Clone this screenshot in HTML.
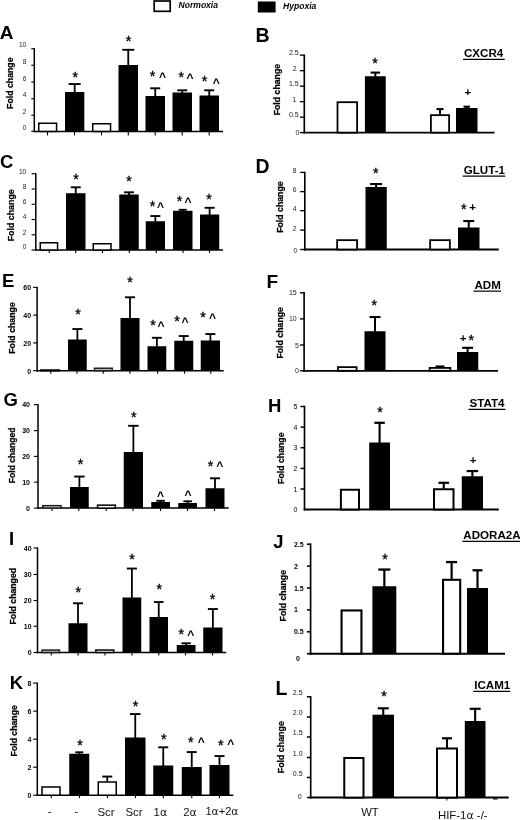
<!DOCTYPE html>
<html><head><meta charset="utf-8"><title>Figure</title>
<style>html,body{margin:0;padding:0;background:#fff}svg{display:block;font-family:'Liberation Sans', sans-serif}</style></head><body>
<svg width="520" height="820" viewBox="0 0 520 820">
<rect width="520" height="820" fill="#fff"/>
<rect x="154.2" y="1.0" width="16" height="10.3" fill="#fff" stroke="#000" stroke-width="1.7"/>
<text x="178.60" y="7.80" text-anchor="start" fill="#000" style="font-size:8.5px;font-weight:bold;font-style:italic;" textLength="39.4" lengthAdjust="spacingAndGlyphs">Normoxia</text>
<rect x="257.8" y="1.5" width="17.8" height="11" fill="#000"/>
<text x="283.00" y="9.10" text-anchor="start" fill="#000" style="font-size:8.3px;font-weight:bold;font-style:italic;" textLength="33.3" lengthAdjust="spacingAndGlyphs">Hypoxia</text>
<line x1="34.30" y1="48.14" x2="34.30" y2="132.15" stroke="#000" stroke-width="1.5"/>
<line x1="33.55" y1="131.40" x2="223.00" y2="131.40" stroke="#000" stroke-width="1.5"/>
<line x1="31.30" y1="48.75" x2="34.30" y2="48.75" stroke="#000" stroke-width="1.125"/>
<text x="26.30" y="47.25" text-anchor="end" fill="#222" style="font-size:6.6px;" >10</text>
<line x1="31.30" y1="65.25" x2="34.30" y2="65.25" stroke="#000" stroke-width="1.125"/>
<text x="26.30" y="63.75" text-anchor="end" fill="#222" style="font-size:6.6px;" >8</text>
<line x1="31.30" y1="82.00" x2="34.30" y2="82.00" stroke="#000" stroke-width="1.125"/>
<text x="26.30" y="80.50" text-anchor="end" fill="#222" style="font-size:6.6px;" >6</text>
<line x1="31.30" y1="98.75" x2="34.30" y2="98.75" stroke="#000" stroke-width="1.125"/>
<text x="26.30" y="97.25" text-anchor="end" fill="#222" style="font-size:6.6px;" >4</text>
<line x1="31.30" y1="115.25" x2="34.30" y2="115.25" stroke="#000" stroke-width="1.125"/>
<text x="26.30" y="113.75" text-anchor="end" fill="#222" style="font-size:6.6px;" >2</text>
<line x1="31.30" y1="131.25" x2="34.30" y2="131.25" stroke="#000" stroke-width="1.125"/>
<text x="26.30" y="129.75" text-anchor="end" fill="#222" style="font-size:6.6px;" >0</text>
<line x1="47.50" y1="131.40" x2="47.50" y2="135.40" stroke="#000" stroke-width="1.1"/>
<line x1="74.50" y1="131.40" x2="74.50" y2="135.40" stroke="#000" stroke-width="1.1"/>
<line x1="101.50" y1="131.40" x2="101.50" y2="135.40" stroke="#000" stroke-width="1.1"/>
<line x1="128.30" y1="131.40" x2="128.30" y2="135.40" stroke="#000" stroke-width="1.1"/>
<line x1="155.20" y1="131.40" x2="155.20" y2="135.40" stroke="#000" stroke-width="1.1"/>
<line x1="182.20" y1="131.40" x2="182.20" y2="135.40" stroke="#000" stroke-width="1.1"/>
<line x1="209.20" y1="131.40" x2="209.20" y2="135.40" stroke="#000" stroke-width="1.1"/>
<text transform="translate(12.70,83.20) rotate(-90)" text-anchor="middle" stroke="#000" stroke-width="0.25" style="font-size:8.75px;font-weight:bold">Fold change</text>
<rect x="38.75" y="123.25" width="17.80" height="8.15" fill="#fff" stroke="#000" stroke-width="1.5"/>
<rect x="65.00" y="92.00" width="19.30" height="39.40" fill="#000"/>
<line x1="74.65" y1="92.50" x2="74.65" y2="84.05" stroke="#000" stroke-width="1.8"/>
<line x1="68.65" y1="84.05" x2="80.65" y2="84.05" stroke="#000" stroke-width="1.9000000000000001"/>
<rect x="92.75" y="123.75" width="17.80" height="7.65" fill="#fff" stroke="#000" stroke-width="1.5"/>
<rect x="118.50" y="65.00" width="19.50" height="66.40" fill="#000"/>
<line x1="128.25" y1="65.50" x2="128.25" y2="49.80" stroke="#000" stroke-width="1.8"/>
<line x1="122.25" y1="49.80" x2="134.25" y2="49.80" stroke="#000" stroke-width="1.9000000000000001"/>
<rect x="145.50" y="96.00" width="19.50" height="35.40" fill="#000"/>
<line x1="155.25" y1="96.50" x2="155.25" y2="88.30" stroke="#000" stroke-width="1.8"/>
<line x1="150.25" y1="88.30" x2="160.25" y2="88.30" stroke="#000" stroke-width="1.9000000000000001"/>
<rect x="172.50" y="92.50" width="19.50" height="38.90" fill="#000"/>
<line x1="182.25" y1="93.00" x2="182.25" y2="90.30" stroke="#000" stroke-width="1.8"/>
<line x1="177.25" y1="90.30" x2="187.25" y2="90.30" stroke="#000" stroke-width="1.9000000000000001"/>
<rect x="199.50" y="95.50" width="19.50" height="35.90" fill="#000"/>
<line x1="209.25" y1="96.00" x2="209.25" y2="90.30" stroke="#000" stroke-width="1.8"/>
<line x1="204.25" y1="90.30" x2="214.25" y2="90.30" stroke="#000" stroke-width="1.9000000000000001"/>
<text x="75.25" y="81.65" text-anchor="middle" fill="#000" style="font-size:14.3px;" stroke="#000" stroke-width="0.35">*</text>
<text x="128.50" y="46.15" text-anchor="middle" fill="#000" style="font-size:14.3px;" stroke="#000" stroke-width="0.35">*</text>
<text x="152.50" y="80.90" text-anchor="middle" fill="#000" style="font-size:14.3px;" stroke="#000" stroke-width="0.35">*</text>
<text x="162.50" y="81.20" text-anchor="middle" fill="#000" style="font-size:12px;font-weight:bold;" >^</text>
<text x="181.25" y="82.15" text-anchor="middle" fill="#000" style="font-size:14.3px;" stroke="#000" stroke-width="0.35">*</text>
<text x="190.00" y="81.95" text-anchor="middle" fill="#000" style="font-size:12px;font-weight:bold;" >^</text>
<text x="204.50" y="85.90" text-anchor="middle" fill="#000" style="font-size:14.3px;" stroke="#000" stroke-width="0.35">*</text>
<text x="216.25" y="86.95" text-anchor="middle" fill="#000" style="font-size:12px;font-weight:bold;" >^</text>
<text x="-0.30" y="38.80" text-anchor="start" fill="#000" style="font-size:19px;font-weight:bold;" >A</text>
<line x1="304.30" y1="54.48" x2="304.30" y2="133.50" stroke="#000" stroke-width="1.65"/>
<line x1="303.48" y1="132.60" x2="494.50" y2="132.60" stroke="#000" stroke-width="1.8"/>
<line x1="299.90" y1="55.15" x2="304.30" y2="55.15" stroke="#000" stroke-width="1.35"/>
<text x="298.70" y="55.05" text-anchor="end" fill="#222" style="font-size:7px;" >2.5</text>
<line x1="299.90" y1="70.65" x2="304.30" y2="70.65" stroke="#000" stroke-width="1.35"/>
<text x="296.60" y="70.55" text-anchor="end" fill="#222" style="font-size:7px;" >2</text>
<line x1="299.90" y1="86.15" x2="304.30" y2="86.15" stroke="#000" stroke-width="1.35"/>
<text x="298.70" y="86.05" text-anchor="end" fill="#222" style="font-size:7px;" >1.5</text>
<line x1="299.90" y1="101.65" x2="304.30" y2="101.65" stroke="#000" stroke-width="1.35"/>
<text x="296.40" y="101.55" text-anchor="end" fill="#222" style="font-size:7px;" >1</text>
<line x1="299.90" y1="117.15" x2="304.30" y2="117.15" stroke="#000" stroke-width="1.35"/>
<text x="298.70" y="117.05" text-anchor="end" fill="#222" style="font-size:7px;" >0.5</text>
<line x1="299.90" y1="132.60" x2="304.30" y2="132.60" stroke="#000" stroke-width="1.35"/>
<text x="299.30" y="135.40" text-anchor="end" fill="#222" style="font-size:7px;" >0</text>
<text transform="translate(280.00,89.60) rotate(-90)" text-anchor="middle" stroke="#000" stroke-width="0.25" style="font-size:8.75px;font-weight:bold">Fold change</text>
<rect x="337.50" y="102.20" width="19.60" height="30.40" fill="#fff" stroke="#000" stroke-width="1.8"/>
<rect x="364.90" y="76.25" width="20.85" height="56.35" fill="#000"/>
<line x1="375.32" y1="76.75" x2="375.32" y2="72.60" stroke="#000" stroke-width="2.0"/>
<line x1="370.57" y1="72.60" x2="380.07" y2="72.60" stroke="#000" stroke-width="2.1"/>
<rect x="430.90" y="115.15" width="18.20" height="17.45" fill="#fff" stroke="#000" stroke-width="1.8"/>
<line x1="440.00" y1="114.75" x2="440.00" y2="109.10" stroke="#000" stroke-width="2.0"/>
<line x1="436.50" y1="109.10" x2="443.50" y2="109.10" stroke="#000" stroke-width="2.1"/>
<rect x="456.00" y="108.00" width="21.50" height="24.60" fill="#000"/>
<line x1="466.75" y1="108.50" x2="466.75" y2="106.70" stroke="#000" stroke-width="2.0"/>
<line x1="463.50" y1="106.70" x2="470.00" y2="106.70" stroke="#000" stroke-width="2.1"/>
<text x="375.00" y="67.65" text-anchor="middle" fill="#000" style="font-size:14.3px;" stroke="#000" stroke-width="0.35">*</text>
<text x="467.75" y="95.84" text-anchor="middle" fill="#000" style="font-size:11.5px;font-weight:bold;" >+</text>
<text x="255.60" y="41.80" text-anchor="start" fill="#000" style="font-size:19.6px;font-weight:bold;" >B</text>
<text x="464.00" y="57.00" text-anchor="start" fill="#000" style="font-size:11.6px;font-weight:bold;" >CXCR4</text>
<line x1="463.00" y1="59.40" x2="504.75" y2="59.40" stroke="#000" stroke-width="1.2"/>
<line x1="35.80" y1="173.19" x2="35.80" y2="250.75" stroke="#000" stroke-width="1.5"/>
<line x1="35.05" y1="250.00" x2="223.00" y2="250.00" stroke="#000" stroke-width="1.5"/>
<line x1="31.60" y1="173.75" x2="35.80" y2="173.75" stroke="#000" stroke-width="1.125"/>
<text x="26.30" y="173.65" text-anchor="end" fill="#222" style="font-size:6.6px;" >10</text>
<line x1="31.60" y1="189.00" x2="35.80" y2="189.00" stroke="#000" stroke-width="1.125"/>
<text x="26.30" y="188.90" text-anchor="end" fill="#222" style="font-size:6.6px;" >8</text>
<line x1="31.60" y1="204.25" x2="35.80" y2="204.25" stroke="#000" stroke-width="1.125"/>
<text x="26.30" y="204.15" text-anchor="end" fill="#222" style="font-size:6.6px;" >6</text>
<line x1="31.60" y1="219.50" x2="35.80" y2="219.50" stroke="#000" stroke-width="1.125"/>
<text x="26.30" y="219.40" text-anchor="end" fill="#222" style="font-size:6.6px;" >4</text>
<line x1="31.60" y1="234.75" x2="35.80" y2="234.75" stroke="#000" stroke-width="1.125"/>
<text x="26.30" y="234.65" text-anchor="end" fill="#222" style="font-size:6.6px;" >2</text>
<line x1="31.60" y1="250.00" x2="35.80" y2="250.00" stroke="#000" stroke-width="1.125"/>
<text x="26.30" y="248.60" text-anchor="end" fill="#222" style="font-size:6.6px;" >0</text>
<line x1="49.25" y1="250.00" x2="49.25" y2="253.00" stroke="#000" stroke-width="1.1"/>
<line x1="75.75" y1="250.00" x2="75.75" y2="253.00" stroke="#000" stroke-width="1.1"/>
<line x1="102.50" y1="250.00" x2="102.50" y2="253.00" stroke="#000" stroke-width="1.1"/>
<line x1="129.30" y1="250.00" x2="129.30" y2="253.00" stroke="#000" stroke-width="1.1"/>
<line x1="156.25" y1="250.00" x2="156.25" y2="253.00" stroke="#000" stroke-width="1.1"/>
<line x1="183.00" y1="250.00" x2="183.00" y2="253.00" stroke="#000" stroke-width="1.1"/>
<line x1="209.50" y1="250.00" x2="209.50" y2="253.00" stroke="#000" stroke-width="1.1"/>
<text transform="translate(13.60,215.30) rotate(-90)" text-anchor="middle" stroke="#000" stroke-width="0.25" style="font-size:8.85px;font-weight:bold">Fold change</text>
<rect x="40.25" y="242.75" width="17.30" height="7.25" fill="#fff" stroke="#000" stroke-width="1.5"/>
<rect x="66.00" y="193.25" width="19.50" height="56.75" fill="#000"/>
<line x1="75.75" y1="193.75" x2="75.75" y2="187.30" stroke="#000" stroke-width="1.8"/>
<line x1="70.75" y1="187.30" x2="80.75" y2="187.30" stroke="#000" stroke-width="1.9000000000000001"/>
<rect x="93.25" y="243.75" width="17.75" height="6.25" fill="#fff" stroke="#000" stroke-width="1.5"/>
<rect x="119.25" y="194.50" width="19.50" height="55.50" fill="#000"/>
<line x1="129.00" y1="195.00" x2="129.00" y2="192.30" stroke="#000" stroke-width="1.8"/>
<line x1="124.00" y1="192.30" x2="134.00" y2="192.30" stroke="#000" stroke-width="1.9000000000000001"/>
<rect x="145.75" y="221.25" width="19.25" height="28.75" fill="#000"/>
<line x1="155.38" y1="221.75" x2="155.38" y2="216.05" stroke="#000" stroke-width="1.8"/>
<line x1="150.38" y1="216.05" x2="160.38" y2="216.05" stroke="#000" stroke-width="1.9000000000000001"/>
<rect x="173.00" y="210.75" width="19.50" height="39.25" fill="#000"/>
<line x1="182.75" y1="211.25" x2="182.75" y2="209.80" stroke="#000" stroke-width="1.8"/>
<line x1="178.75" y1="209.80" x2="186.75" y2="209.80" stroke="#000" stroke-width="1.9000000000000001"/>
<rect x="200.00" y="214.50" width="19.25" height="35.50" fill="#000"/>
<line x1="209.62" y1="215.00" x2="209.62" y2="207.80" stroke="#000" stroke-width="1.8"/>
<line x1="204.62" y1="207.80" x2="214.62" y2="207.80" stroke="#000" stroke-width="1.9000000000000001"/>
<text x="76.00" y="183.65" text-anchor="middle" fill="#000" style="font-size:14.3px;" stroke="#000" stroke-width="0.35">*</text>
<text x="129.00" y="186.15" text-anchor="middle" fill="#000" style="font-size:14.3px;" stroke="#000" stroke-width="0.35">*</text>
<text x="152.50" y="211.15" text-anchor="middle" fill="#000" style="font-size:14.3px;" stroke="#000" stroke-width="0.35">*</text>
<text x="160.50" y="211.45" text-anchor="middle" fill="#000" style="font-size:12px;font-weight:bold;" >^</text>
<text x="179.50" y="206.15" text-anchor="middle" fill="#000" style="font-size:14.3px;" stroke="#000" stroke-width="0.35">*</text>
<text x="188.00" y="206.45" text-anchor="middle" fill="#000" style="font-size:12px;font-weight:bold;" >^</text>
<text x="209.00" y="203.65" text-anchor="middle" fill="#000" style="font-size:14.3px;" stroke="#000" stroke-width="0.35">*</text>
<text x="0.10" y="168.25" text-anchor="start" fill="#000" style="font-size:18.5px;font-weight:bold;" >C</text>
<line x1="304.80" y1="171.72" x2="304.80" y2="250.40" stroke="#000" stroke-width="1.65"/>
<line x1="303.98" y1="249.50" x2="498.75" y2="249.50" stroke="#000" stroke-width="1.8"/>
<line x1="300.20" y1="172.40" x2="304.80" y2="172.40" stroke="#000" stroke-width="1.35"/>
<text x="296.30" y="172.80" text-anchor="end" fill="#222" style="font-size:6.6px;" >8</text>
<line x1="300.20" y1="191.60" x2="304.80" y2="191.60" stroke="#000" stroke-width="1.35"/>
<text x="296.30" y="192.00" text-anchor="end" fill="#222" style="font-size:6.6px;" >6</text>
<line x1="300.20" y1="210.70" x2="304.80" y2="210.70" stroke="#000" stroke-width="1.35"/>
<text x="296.30" y="211.10" text-anchor="end" fill="#222" style="font-size:6.6px;" >4</text>
<line x1="300.20" y1="230.10" x2="304.80" y2="230.10" stroke="#000" stroke-width="1.35"/>
<text x="296.30" y="230.50" text-anchor="end" fill="#222" style="font-size:6.6px;" >2</text>
<line x1="300.20" y1="249.50" x2="304.80" y2="249.50" stroke="#000" stroke-width="1.35"/>
<text x="297.20" y="252.90" text-anchor="end" fill="#222" style="font-size:6.6px;" >0</text>
<text transform="translate(283.00,207.10) rotate(-90)" text-anchor="middle" stroke="#000" stroke-width="0.25" style="font-size:8.75px;font-weight:bold">Fold change</text>
<rect x="337.15" y="240.15" width="19.95" height="9.35" fill="#fff" stroke="#000" stroke-width="1.8"/>
<rect x="365.50" y="187.00" width="21.25" height="62.50" fill="#000"/>
<line x1="376.12" y1="187.50" x2="376.12" y2="184.05" stroke="#000" stroke-width="2.0"/>
<line x1="370.12" y1="184.05" x2="382.12" y2="184.05" stroke="#000" stroke-width="2.1"/>
<rect x="430.15" y="240.15" width="19.70" height="9.35" fill="#fff" stroke="#000" stroke-width="1.8"/>
<rect x="458.00" y="227.50" width="21.50" height="22.00" fill="#000"/>
<line x1="468.75" y1="228.00" x2="468.75" y2="221.05" stroke="#000" stroke-width="2.0"/>
<line x1="463.25" y1="221.05" x2="474.25" y2="221.05" stroke="#000" stroke-width="2.1"/>
<text x="375.75" y="178.05" text-anchor="middle" fill="#000" style="font-size:14.3px;" stroke="#000" stroke-width="0.35">*</text>
<text x="463.75" y="214.05" text-anchor="middle" fill="#000" style="font-size:14.3px;" stroke="#000" stroke-width="0.35">*</text>
<text x="472.50" y="211.09" text-anchor="middle" fill="#000" style="font-size:11.5px;font-weight:bold;" >+</text>
<text x="255.50" y="173.00" text-anchor="start" fill="#000" style="font-size:19.4px;font-weight:bold;" >D</text>
<text x="463.75" y="173.75" text-anchor="start" fill="#000" style="font-size:11.6px;font-weight:bold;" >GLUT-1</text>
<line x1="462.75" y1="176.15" x2="505.25" y2="176.15" stroke="#000" stroke-width="1.2"/>
<line x1="37.10" y1="286.84" x2="37.10" y2="371.45" stroke="#000" stroke-width="1.5"/>
<line x1="36.35" y1="370.70" x2="223.75" y2="370.70" stroke="#000" stroke-width="1.5"/>
<line x1="33.10" y1="287.40" x2="37.10" y2="287.40" stroke="#000" stroke-width="1.125"/>
<text x="31.10" y="290.20" text-anchor="end" fill="#000" style="font-size:7px;font-weight:bold;" >60</text>
<line x1="33.10" y1="315.10" x2="37.10" y2="315.10" stroke="#000" stroke-width="1.125"/>
<text x="31.10" y="317.90" text-anchor="end" fill="#000" style="font-size:7px;font-weight:bold;" >40</text>
<line x1="33.10" y1="342.90" x2="37.10" y2="342.90" stroke="#000" stroke-width="1.125"/>
<text x="31.10" y="345.70" text-anchor="end" fill="#000" style="font-size:7px;font-weight:bold;" >20</text>
<line x1="33.10" y1="370.70" x2="37.10" y2="370.70" stroke="#000" stroke-width="1.125"/>
<text x="31.10" y="373.50" text-anchor="end" fill="#000" style="font-size:7px;font-weight:bold;" >0</text>
<line x1="50.75" y1="370.70" x2="50.75" y2="373.70" stroke="#000" stroke-width="1.1"/>
<line x1="77.00" y1="370.70" x2="77.00" y2="373.70" stroke="#000" stroke-width="1.1"/>
<line x1="103.25" y1="370.70" x2="103.25" y2="373.70" stroke="#000" stroke-width="1.1"/>
<line x1="130.00" y1="370.70" x2="130.00" y2="373.70" stroke="#000" stroke-width="1.1"/>
<line x1="157.50" y1="370.70" x2="157.50" y2="373.70" stroke="#000" stroke-width="1.1"/>
<line x1="184.50" y1="370.70" x2="184.50" y2="373.70" stroke="#000" stroke-width="1.1"/>
<line x1="210.75" y1="370.70" x2="210.75" y2="373.70" stroke="#000" stroke-width="1.1"/>
<text transform="translate(15.00,328.00) rotate(-90)" text-anchor="middle" stroke="#000" stroke-width="0.25" style="font-size:8.75px;font-weight:bold">Fold change</text>
<rect x="40.75" y="370.00" width="18.50" height="0.70" fill="#fff" stroke="#000" stroke-width="1.5"/>
<rect x="68.00" y="339.50" width="18.75" height="31.20" fill="#000"/>
<line x1="77.38" y1="340.00" x2="77.38" y2="329.05" stroke="#000" stroke-width="1.8"/>
<line x1="72.38" y1="329.05" x2="82.38" y2="329.05" stroke="#000" stroke-width="1.9000000000000001"/>
<rect x="94.50" y="368.25" width="17.75" height="2.45" fill="#c4c4c4" stroke="#222" stroke-width="1.5"/>
<rect x="120.50" y="318.00" width="19.00" height="52.70" fill="#000"/>
<line x1="130.00" y1="318.50" x2="130.00" y2="297.30" stroke="#000" stroke-width="1.8"/>
<line x1="125.00" y1="297.30" x2="135.00" y2="297.30" stroke="#000" stroke-width="1.9000000000000001"/>
<rect x="147.50" y="346.25" width="18.75" height="24.45" fill="#000"/>
<line x1="156.88" y1="346.75" x2="156.88" y2="337.80" stroke="#000" stroke-width="1.8"/>
<line x1="151.88" y1="337.80" x2="161.88" y2="337.80" stroke="#000" stroke-width="1.9000000000000001"/>
<rect x="174.25" y="340.75" width="19.00" height="29.95" fill="#000"/>
<line x1="183.75" y1="341.25" x2="183.75" y2="336.05" stroke="#000" stroke-width="1.8"/>
<line x1="178.75" y1="336.05" x2="188.75" y2="336.05" stroke="#000" stroke-width="1.9000000000000001"/>
<rect x="200.75" y="340.50" width="19.25" height="30.20" fill="#000"/>
<line x1="210.38" y1="341.00" x2="210.38" y2="334.05" stroke="#000" stroke-width="1.8"/>
<line x1="205.38" y1="334.05" x2="215.38" y2="334.05" stroke="#000" stroke-width="1.9000000000000001"/>
<text x="78.00" y="319.15" text-anchor="middle" fill="#000" style="font-size:14.3px;" stroke="#000" stroke-width="0.35">*</text>
<text x="130.00" y="286.65" text-anchor="middle" fill="#000" style="font-size:14.3px;" stroke="#000" stroke-width="0.35">*</text>
<text x="153.00" y="329.90" text-anchor="middle" fill="#000" style="font-size:14.3px;" stroke="#000" stroke-width="0.35">*</text>
<text x="161.00" y="330.20" text-anchor="middle" fill="#000" style="font-size:12px;font-weight:bold;" >^</text>
<text x="177.00" y="326.15" text-anchor="middle" fill="#000" style="font-size:14.3px;" stroke="#000" stroke-width="0.35">*</text>
<text x="185.00" y="326.45" text-anchor="middle" fill="#000" style="font-size:12px;font-weight:bold;" >^</text>
<text x="203.00" y="321.65" text-anchor="middle" fill="#000" style="font-size:14.3px;" stroke="#000" stroke-width="0.35">*</text>
<text x="212.50" y="321.95" text-anchor="middle" fill="#000" style="font-size:12px;font-weight:bold;" >^</text>
<text x="2.00" y="286.50" text-anchor="start" fill="#000" style="font-size:18.5px;font-weight:bold;" >E</text>
<line x1="304.10" y1="292.12" x2="304.10" y2="371.70" stroke="#000" stroke-width="1.65"/>
<line x1="303.28" y1="370.80" x2="498.00" y2="370.80" stroke="#000" stroke-width="1.8"/>
<line x1="299.90" y1="292.80" x2="304.10" y2="292.80" stroke="#000" stroke-width="1.35"/>
<text x="296.70" y="295.30" text-anchor="end" fill="#222" style="font-size:7px;" >15</text>
<line x1="299.90" y1="318.90" x2="304.10" y2="318.90" stroke="#000" stroke-width="1.35"/>
<text x="296.70" y="321.40" text-anchor="end" fill="#222" style="font-size:7px;" >10</text>
<line x1="299.90" y1="345.00" x2="304.10" y2="345.00" stroke="#000" stroke-width="1.35"/>
<text x="299.00" y="347.50" text-anchor="end" fill="#222" style="font-size:7px;" >5</text>
<line x1="299.90" y1="370.80" x2="304.10" y2="370.80" stroke="#000" stroke-width="1.35"/>
<text x="298.80" y="373.30" text-anchor="end" fill="#222" style="font-size:7px;" >0</text>
<text transform="translate(283.20,332.80) rotate(-90)" text-anchor="middle" stroke="#000" stroke-width="0.25" style="font-size:8.75px;font-weight:bold">Fold change</text>
<rect x="337.90" y="367.15" width="18.70" height="3.65" fill="#fff" stroke="#000" stroke-width="1.8"/>
<rect x="364.50" y="331.25" width="21.00" height="39.55" fill="#000"/>
<line x1="375.00" y1="331.75" x2="375.00" y2="317.05" stroke="#000" stroke-width="2.0"/>
<line x1="369.50" y1="317.05" x2="380.50" y2="317.05" stroke="#000" stroke-width="2.1"/>
<rect x="429.65" y="367.90" width="20.70" height="2.90" fill="#fff" stroke="#000" stroke-width="1.8"/>
<line x1="440.00" y1="367.50" x2="440.00" y2="366.50" stroke="#000" stroke-width="2.0"/>
<line x1="435.50" y1="366.50" x2="444.50" y2="366.50" stroke="#000" stroke-width="2.1"/>
<rect x="457.00" y="352.00" width="21.25" height="18.80" fill="#000"/>
<line x1="467.62" y1="352.50" x2="467.62" y2="347.80" stroke="#000" stroke-width="2.0"/>
<line x1="462.12" y1="347.80" x2="473.12" y2="347.80" stroke="#000" stroke-width="2.1"/>
<text x="374.25" y="310.20" text-anchor="middle" fill="#000" style="font-size:14.3px;" stroke="#000" stroke-width="0.35">*</text>
<text x="463.00" y="342.35" text-anchor="middle" fill="#000" style="font-size:11.5px;font-weight:bold;" >+</text>
<text x="471.25" y="344.70" text-anchor="middle" fill="#000" style="font-size:14.3px;" stroke="#000" stroke-width="0.35">*</text>
<text x="266.40" y="288.00" text-anchor="start" fill="#000" style="font-size:19.1px;font-weight:bold;" >F</text>
<text x="474.50" y="288.75" text-anchor="start" fill="#000" style="font-size:11.6px;font-weight:bold;" >ADM</text>
<line x1="473.50" y1="291.15" x2="501.00" y2="291.15" stroke="#000" stroke-width="1.2"/>
<line x1="38.00" y1="404.04" x2="38.00" y2="508.85" stroke="#000" stroke-width="1.5"/>
<line x1="37.25" y1="508.10" x2="228.75" y2="508.10" stroke="#000" stroke-width="1.5"/>
<line x1="34.00" y1="404.65" x2="38.00" y2="404.65" stroke="#000" stroke-width="1.125"/>
<text x="30.00" y="407.15" text-anchor="end" fill="#000" style="font-size:7px;font-weight:bold;" >40</text>
<line x1="34.00" y1="430.65" x2="38.00" y2="430.65" stroke="#000" stroke-width="1.125"/>
<text x="30.00" y="433.15" text-anchor="end" fill="#000" style="font-size:7px;font-weight:bold;" >30</text>
<line x1="34.00" y1="456.40" x2="38.00" y2="456.40" stroke="#000" stroke-width="1.125"/>
<text x="30.00" y="458.90" text-anchor="end" fill="#000" style="font-size:7px;font-weight:bold;" >20</text>
<line x1="34.00" y1="482.15" x2="38.00" y2="482.15" stroke="#000" stroke-width="1.125"/>
<text x="30.00" y="484.65" text-anchor="end" fill="#000" style="font-size:7px;font-weight:bold;" >10</text>
<line x1="34.00" y1="508.10" x2="38.00" y2="508.10" stroke="#000" stroke-width="1.125"/>
<text x="30.00" y="510.60" text-anchor="end" fill="#000" style="font-size:7px;font-weight:bold;" >0</text>
<line x1="52.00" y1="508.10" x2="52.00" y2="511.10" stroke="#000" stroke-width="1.1"/>
<line x1="78.75" y1="508.10" x2="78.75" y2="511.10" stroke="#000" stroke-width="1.1"/>
<line x1="106.25" y1="508.10" x2="106.25" y2="511.10" stroke="#000" stroke-width="1.1"/>
<line x1="133.00" y1="508.10" x2="133.00" y2="511.10" stroke="#000" stroke-width="1.1"/>
<line x1="160.50" y1="508.10" x2="160.50" y2="511.10" stroke="#000" stroke-width="1.1"/>
<line x1="187.50" y1="508.10" x2="187.50" y2="511.10" stroke="#000" stroke-width="1.1"/>
<line x1="214.50" y1="508.10" x2="214.50" y2="511.10" stroke="#000" stroke-width="1.1"/>
<text transform="translate(15.00,455.40) rotate(-90)" text-anchor="middle" stroke="#000" stroke-width="0.25" style="font-size:8.55px;font-weight:bold">Fold changed</text>
<rect x="42.75" y="505.65" width="18.20" height="2.45" fill="#c4c4c4" stroke="#222" stroke-width="1.5"/>
<rect x="70.00" y="487.00" width="18.75" height="21.10" fill="#000"/>
<line x1="79.38" y1="487.50" x2="79.38" y2="476.55" stroke="#000" stroke-width="1.8"/>
<line x1="74.12" y1="476.55" x2="84.62" y2="476.55" stroke="#000" stroke-width="1.9000000000000001"/>
<rect x="97.55" y="505.15" width="17.80" height="2.95" fill="#fff" stroke="#000" stroke-width="1.5"/>
<rect x="123.75" y="452.00" width="19.25" height="56.10" fill="#000"/>
<line x1="133.38" y1="452.50" x2="133.38" y2="425.80" stroke="#000" stroke-width="1.8"/>
<line x1="128.12" y1="425.80" x2="138.62" y2="425.80" stroke="#000" stroke-width="1.9000000000000001"/>
<rect x="151.25" y="502.00" width="18.75" height="6.10" fill="#000"/>
<line x1="160.62" y1="502.50" x2="160.62" y2="500.80" stroke="#000" stroke-width="1.8"/>
<line x1="156.38" y1="500.80" x2="164.88" y2="500.80" stroke="#000" stroke-width="1.9000000000000001"/>
<rect x="178.25" y="503.00" width="18.75" height="5.10" fill="#000"/>
<line x1="187.62" y1="503.50" x2="187.62" y2="501.30" stroke="#000" stroke-width="1.8"/>
<line x1="183.38" y1="501.30" x2="191.88" y2="501.30" stroke="#000" stroke-width="1.9000000000000001"/>
<rect x="205.50" y="488.25" width="19.00" height="19.85" fill="#000"/>
<line x1="215.00" y1="488.75" x2="215.00" y2="478.30" stroke="#000" stroke-width="1.8"/>
<line x1="210.00" y1="478.30" x2="220.00" y2="478.30" stroke="#000" stroke-width="1.9000000000000001"/>
<text x="80.50" y="469.15" text-anchor="middle" fill="#000" style="font-size:14.3px;" stroke="#000" stroke-width="0.35">*</text>
<text x="133.75" y="421.65" text-anchor="middle" fill="#000" style="font-size:14.3px;" stroke="#000" stroke-width="0.35">*</text>
<text x="160.50" y="500.20" text-anchor="middle" fill="#000" style="font-size:12px;font-weight:bold;" >^</text>
<text x="188.00" y="499.45" text-anchor="middle" fill="#000" style="font-size:12px;font-weight:bold;" >^</text>
<text x="210.50" y="471.45" text-anchor="middle" fill="#000" style="font-size:14.3px;" stroke="#000" stroke-width="0.35">*</text>
<text x="219.70" y="470.05" text-anchor="middle" fill="#000" style="font-size:12px;font-weight:bold;" >^</text>
<text x="3.50" y="405.70" text-anchor="start" fill="#000" style="font-size:18.5px;font-weight:bold;" >G</text>
<line x1="304.50" y1="405.75" x2="304.50" y2="510.50" stroke="#000" stroke-width="1.65"/>
<line x1="303.68" y1="509.50" x2="498.75" y2="509.50" stroke="#000" stroke-width="2.0"/>
<line x1="300.50" y1="406.50" x2="304.50" y2="406.50" stroke="#000" stroke-width="1.5"/>
<text x="297.50" y="409.00" text-anchor="end" fill="#000" style="font-size:7px;" >5</text>
<line x1="300.50" y1="427.10" x2="304.50" y2="427.10" stroke="#000" stroke-width="1.5"/>
<text x="297.50" y="429.60" text-anchor="end" fill="#000" style="font-size:7px;" >4</text>
<line x1="300.50" y1="447.70" x2="304.50" y2="447.70" stroke="#000" stroke-width="1.5"/>
<text x="297.50" y="450.20" text-anchor="end" fill="#000" style="font-size:7px;" >3</text>
<line x1="300.50" y1="468.40" x2="304.50" y2="468.40" stroke="#000" stroke-width="1.5"/>
<text x="297.50" y="470.90" text-anchor="end" fill="#000" style="font-size:7px;" >2</text>
<line x1="300.50" y1="489.00" x2="304.50" y2="489.00" stroke="#000" stroke-width="1.5"/>
<text x="297.50" y="491.50" text-anchor="end" fill="#000" style="font-size:7px;" >1</text>
<text x="297.50" y="512.00" text-anchor="end" fill="#000" style="font-size:7px;" >0</text>
<text transform="translate(284.00,458.20) rotate(-90)" text-anchor="middle" stroke="#000" stroke-width="0.25" style="font-size:8.75px;font-weight:bold">Fold change</text>
<rect x="340.90" y="489.75" width="18.10" height="19.75" fill="#fff" stroke="#000" stroke-width="2.0"/>
<rect x="369.20" y="442.50" width="20.80" height="67.00" fill="#000"/>
<line x1="379.60" y1="443.00" x2="379.60" y2="422.80" stroke="#000" stroke-width="2.1"/>
<line x1="374.35" y1="422.80" x2="384.85" y2="422.80" stroke="#000" stroke-width="2.2"/>
<rect x="434.00" y="489.25" width="19.50" height="20.25" fill="#fff" stroke="#000" stroke-width="2.0"/>
<line x1="443.75" y1="488.75" x2="443.75" y2="482.80" stroke="#000" stroke-width="2.1"/>
<line x1="438.50" y1="482.80" x2="449.00" y2="482.80" stroke="#000" stroke-width="2.2"/>
<rect x="461.75" y="476.25" width="21.25" height="33.25" fill="#000"/>
<line x1="472.38" y1="476.75" x2="472.38" y2="471.05" stroke="#000" stroke-width="2.1"/>
<line x1="466.62" y1="471.05" x2="478.12" y2="471.05" stroke="#000" stroke-width="2.2"/>
<text x="380.00" y="417.45" text-anchor="middle" fill="#000" style="font-size:14.3px;" stroke="#000" stroke-width="0.35">*</text>
<text x="473.00" y="463.60" text-anchor="middle" fill="#000" style="font-size:11.5px;font-weight:bold;" >+</text>
<text x="268.00" y="411.80" text-anchor="start" fill="#000" style="font-size:18.5px;font-weight:bold;" >H</text>
<text x="469.50" y="407.00" text-anchor="start" fill="#000" style="font-size:11.6px;font-weight:bold;" >STAT4</text>
<line x1="468.50" y1="409.40" x2="505.50" y2="409.40" stroke="#000" stroke-width="1.2"/>
<line x1="37.50" y1="547.44" x2="37.50" y2="653.25" stroke="#000" stroke-width="1.5"/>
<line x1="36.75" y1="652.50" x2="226.25" y2="652.50" stroke="#000" stroke-width="1.5"/>
<line x1="33.50" y1="548.00" x2="37.50" y2="548.00" stroke="#000" stroke-width="1.125"/>
<text x="31.60" y="550.50" text-anchor="end" fill="#000" style="font-size:7px;font-weight:bold;" >40</text>
<line x1="33.50" y1="574.50" x2="37.50" y2="574.50" stroke="#000" stroke-width="1.125"/>
<text x="31.60" y="577.00" text-anchor="end" fill="#000" style="font-size:7px;font-weight:bold;" >30</text>
<line x1="33.50" y1="600.50" x2="37.50" y2="600.50" stroke="#000" stroke-width="1.125"/>
<text x="31.60" y="603.00" text-anchor="end" fill="#000" style="font-size:7px;font-weight:bold;" >20</text>
<line x1="33.50" y1="626.25" x2="37.50" y2="626.25" stroke="#000" stroke-width="1.125"/>
<text x="31.60" y="628.75" text-anchor="end" fill="#000" style="font-size:7px;font-weight:bold;" >10</text>
<line x1="33.50" y1="652.50" x2="37.50" y2="652.50" stroke="#000" stroke-width="1.125"/>
<text x="31.60" y="655.00" text-anchor="end" fill="#000" style="font-size:7px;font-weight:bold;" >0</text>
<line x1="51.25" y1="652.50" x2="51.25" y2="655.50" stroke="#000" stroke-width="1.1"/>
<line x1="78.00" y1="652.50" x2="78.00" y2="655.50" stroke="#000" stroke-width="1.1"/>
<line x1="105.00" y1="652.50" x2="105.00" y2="655.50" stroke="#000" stroke-width="1.1"/>
<line x1="132.00" y1="652.50" x2="132.00" y2="655.50" stroke="#000" stroke-width="1.1"/>
<line x1="158.75" y1="652.50" x2="158.75" y2="655.50" stroke="#000" stroke-width="1.1"/>
<line x1="185.50" y1="652.50" x2="185.50" y2="655.50" stroke="#000" stroke-width="1.1"/>
<line x1="212.50" y1="652.50" x2="212.50" y2="655.50" stroke="#000" stroke-width="1.1"/>
<text transform="translate(16.30,596.20) rotate(-90)" text-anchor="middle" stroke="#000" stroke-width="0.25" style="font-size:8.7px;font-weight:bold">Fold changed</text>
<rect x="42.05" y="650.05" width="17.40" height="2.45" fill="#c4c4c4" stroke="#222" stroke-width="1.5"/>
<rect x="68.50" y="623.25" width="19.00" height="29.25" fill="#000"/>
<line x1="78.00" y1="623.75" x2="78.00" y2="603.30" stroke="#000" stroke-width="1.8"/>
<line x1="73.00" y1="603.30" x2="83.00" y2="603.30" stroke="#000" stroke-width="1.9000000000000001"/>
<rect x="95.85" y="650.05" width="17.90" height="2.45" fill="#fff" stroke="#000" stroke-width="1.5"/>
<rect x="122.50" y="597.50" width="18.75" height="55.00" fill="#000"/>
<line x1="131.88" y1="598.00" x2="131.88" y2="568.55" stroke="#000" stroke-width="1.8"/>
<line x1="126.88" y1="568.55" x2="136.88" y2="568.55" stroke="#000" stroke-width="1.9000000000000001"/>
<rect x="149.50" y="617.00" width="18.50" height="35.50" fill="#000"/>
<line x1="158.75" y1="617.50" x2="158.75" y2="602.05" stroke="#000" stroke-width="1.8"/>
<line x1="154.00" y1="602.05" x2="163.50" y2="602.05" stroke="#000" stroke-width="1.9000000000000001"/>
<rect x="176.75" y="645.00" width="18.75" height="7.50" fill="#000"/>
<line x1="186.12" y1="645.50" x2="186.12" y2="643.30" stroke="#000" stroke-width="1.8"/>
<line x1="181.38" y1="643.30" x2="190.88" y2="643.30" stroke="#000" stroke-width="1.9000000000000001"/>
<rect x="203.25" y="627.50" width="19.25" height="25.00" fill="#000"/>
<line x1="212.88" y1="628.00" x2="212.88" y2="609.05" stroke="#000" stroke-width="1.8"/>
<line x1="207.88" y1="609.05" x2="217.88" y2="609.05" stroke="#000" stroke-width="1.9000000000000001"/>
<text x="78.25" y="597.40" text-anchor="middle" fill="#000" style="font-size:14.3px;" stroke="#000" stroke-width="0.35">*</text>
<text x="132.00" y="563.65" text-anchor="middle" fill="#000" style="font-size:14.3px;" stroke="#000" stroke-width="0.35">*</text>
<text x="159.25" y="594.15" text-anchor="middle" fill="#000" style="font-size:14.3px;" stroke="#000" stroke-width="0.35">*</text>
<text x="181.25" y="638.65" text-anchor="middle" fill="#000" style="font-size:14.3px;" stroke="#000" stroke-width="0.35">*</text>
<text x="190.75" y="638.95" text-anchor="middle" fill="#000" style="font-size:12px;font-weight:bold;" >^</text>
<text x="212.50" y="604.15" text-anchor="middle" fill="#000" style="font-size:14.3px;" stroke="#000" stroke-width="0.35">*</text>
<text x="9.00" y="544.50" text-anchor="start" fill="#000" style="font-size:18.5px;font-weight:bold;" >I</text>
<line x1="310.60" y1="543.41" x2="310.60" y2="654.75" stroke="#000" stroke-width="1.65"/>
<line x1="309.78" y1="653.70" x2="505.00" y2="653.70" stroke="#000" stroke-width="2.1"/>
<line x1="306.90" y1="544.20" x2="310.60" y2="544.20" stroke="#000" stroke-width="1.5750000000000002"/>
<text x="293.90" y="546.70" text-anchor="start" fill="#000" style="font-size:7px;font-weight:bold;" >2.5</text>
<line x1="306.90" y1="566.10" x2="310.60" y2="566.10" stroke="#000" stroke-width="1.5750000000000002"/>
<text x="293.90" y="568.60" text-anchor="start" fill="#000" style="font-size:7px;font-weight:bold;" >2</text>
<line x1="306.90" y1="588.00" x2="310.60" y2="588.00" stroke="#000" stroke-width="1.5750000000000002"/>
<text x="293.90" y="590.50" text-anchor="start" fill="#000" style="font-size:7px;font-weight:bold;" >1.5</text>
<line x1="306.90" y1="609.90" x2="310.60" y2="609.90" stroke="#000" stroke-width="1.5750000000000002"/>
<text x="293.90" y="612.40" text-anchor="start" fill="#000" style="font-size:7px;font-weight:bold;" >1</text>
<line x1="306.90" y1="631.80" x2="310.60" y2="631.80" stroke="#000" stroke-width="1.5750000000000002"/>
<text x="293.90" y="634.30" text-anchor="start" fill="#000" style="font-size:7px;font-weight:bold;" >0.5</text>
<line x1="306.90" y1="653.70" x2="310.60" y2="653.70" stroke="#000" stroke-width="1.5750000000000002"/>
<text x="296.10" y="660.70" text-anchor="start" fill="#000" style="font-size:7px;font-weight:bold;" >0</text>
<text transform="translate(285.60,595.70) rotate(-90)" text-anchor="middle" stroke="#000" stroke-width="0.25" style="font-size:8.75px;font-weight:bold">Fold change</text>
<rect x="341.55" y="610.45" width="19.90" height="43.25" fill="#fff" stroke="#000" stroke-width="2.1"/>
<rect x="372.40" y="586.25" width="23.90" height="67.45" fill="#000"/>
<line x1="384.35" y1="586.75" x2="384.35" y2="569.55" stroke="#000" stroke-width="2.2"/>
<line x1="378.35" y1="569.55" x2="390.35" y2="569.55" stroke="#000" stroke-width="2.3000000000000003"/>
<rect x="443.05" y="579.80" width="17.15" height="73.90" fill="#fff" stroke="#000" stroke-width="2.1"/>
<line x1="451.62" y1="579.25" x2="451.62" y2="562.05" stroke="#000" stroke-width="2.2"/>
<line x1="446.12" y1="562.05" x2="457.12" y2="562.05" stroke="#000" stroke-width="2.3000000000000003"/>
<rect x="467.00" y="588.00" width="21.00" height="65.70" fill="#000"/>
<line x1="477.50" y1="588.50" x2="477.50" y2="570.30" stroke="#000" stroke-width="2.2"/>
<line x1="472.50" y1="570.30" x2="482.50" y2="570.30" stroke="#000" stroke-width="2.3000000000000003"/>
<text x="385.00" y="564.10" text-anchor="middle" fill="#000" style="font-size:14.3px;" stroke="#000" stroke-width="0.35">*</text>
<text x="273.30" y="548.00" text-anchor="start" fill="#000" style="font-size:18.5px;font-weight:bold;" >J</text>
<text x="463.30" y="539.00" text-anchor="start" fill="#000" style="font-size:11.6px;font-weight:bold;" >ADORA2A</text>
<line x1="462.30" y1="541.40" x2="521.00" y2="541.40" stroke="#000" stroke-width="1.2"/>
<line x1="37.30" y1="682.54" x2="37.30" y2="795.95" stroke="#000" stroke-width="1.5"/>
<line x1="36.55" y1="795.20" x2="233.25" y2="795.20" stroke="#000" stroke-width="1.5"/>
<line x1="33.10" y1="683.10" x2="37.30" y2="683.10" stroke="#000" stroke-width="1.125"/>
<text x="31.40" y="685.60" text-anchor="end" fill="#000" style="font-size:7px;font-weight:bold;" >8</text>
<line x1="33.10" y1="711.15" x2="37.30" y2="711.15" stroke="#000" stroke-width="1.125"/>
<text x="31.40" y="713.65" text-anchor="end" fill="#000" style="font-size:7px;font-weight:bold;" >6</text>
<line x1="33.10" y1="739.20" x2="37.30" y2="739.20" stroke="#000" stroke-width="1.125"/>
<text x="31.40" y="741.70" text-anchor="end" fill="#000" style="font-size:7px;font-weight:bold;" >4</text>
<line x1="33.10" y1="767.20" x2="37.30" y2="767.20" stroke="#000" stroke-width="1.125"/>
<text x="31.40" y="769.70" text-anchor="end" fill="#000" style="font-size:7px;font-weight:bold;" >2</text>
<line x1="33.10" y1="795.20" x2="37.30" y2="795.20" stroke="#000" stroke-width="1.125"/>
<text x="31.40" y="797.70" text-anchor="end" fill="#000" style="font-size:7px;font-weight:bold;" >0</text>
<line x1="51.25" y1="795.20" x2="51.25" y2="798.20" stroke="#000" stroke-width="1.1"/>
<line x1="79.50" y1="795.20" x2="79.50" y2="798.20" stroke="#000" stroke-width="1.1"/>
<line x1="107.50" y1="795.20" x2="107.50" y2="798.20" stroke="#000" stroke-width="1.1"/>
<line x1="135.50" y1="795.20" x2="135.50" y2="798.20" stroke="#000" stroke-width="1.1"/>
<line x1="163.25" y1="795.20" x2="163.25" y2="798.20" stroke="#000" stroke-width="1.1"/>
<line x1="191.75" y1="795.20" x2="191.75" y2="798.20" stroke="#000" stroke-width="1.1"/>
<line x1="219.50" y1="795.20" x2="219.50" y2="798.20" stroke="#000" stroke-width="1.1"/>
<text transform="translate(17.30,730.80) rotate(-90)" text-anchor="middle" stroke="#000" stroke-width="0.25" style="font-size:8.7px;font-weight:bold">Fold change</text>
<rect x="42.00" y="787.00" width="18.00" height="8.20" fill="#fff" stroke="#000" stroke-width="1.5"/>
<rect x="69.25" y="753.75" width="20.00" height="41.45" fill="#000"/>
<line x1="79.25" y1="754.25" x2="79.25" y2="752.30" stroke="#000" stroke-width="1.8"/>
<line x1="75.25" y1="752.30" x2="83.25" y2="752.30" stroke="#000" stroke-width="1.9000000000000001"/>
<rect x="98.25" y="782.00" width="18.00" height="13.20" fill="#fff" stroke="#000" stroke-width="1.5"/>
<line x1="107.25" y1="781.75" x2="107.25" y2="776.55" stroke="#000" stroke-width="1.8"/>
<line x1="102.25" y1="776.55" x2="112.25" y2="776.55" stroke="#000" stroke-width="1.9000000000000001"/>
<rect x="125.00" y="737.50" width="20.50" height="57.70" fill="#000"/>
<line x1="135.25" y1="738.00" x2="135.25" y2="714.05" stroke="#000" stroke-width="1.8"/>
<line x1="130.00" y1="714.05" x2="140.50" y2="714.05" stroke="#000" stroke-width="1.9000000000000001"/>
<rect x="153.25" y="765.50" width="20.00" height="29.70" fill="#000"/>
<line x1="163.25" y1="766.00" x2="163.25" y2="747.30" stroke="#000" stroke-width="1.8"/>
<line x1="158.25" y1="747.30" x2="168.25" y2="747.30" stroke="#000" stroke-width="1.9000000000000001"/>
<rect x="181.75" y="767.00" width="20.00" height="28.20" fill="#000"/>
<line x1="191.75" y1="767.50" x2="191.75" y2="752.05" stroke="#000" stroke-width="1.8"/>
<line x1="186.75" y1="752.05" x2="196.75" y2="752.05" stroke="#000" stroke-width="1.9000000000000001"/>
<rect x="209.50" y="765.00" width="20.00" height="30.20" fill="#000"/>
<line x1="219.50" y1="765.50" x2="219.50" y2="756.05" stroke="#000" stroke-width="1.8"/>
<line x1="214.50" y1="756.05" x2="224.50" y2="756.05" stroke="#000" stroke-width="1.9000000000000001"/>
<text x="80.00" y="749.90" text-anchor="middle" fill="#000" style="font-size:14.3px;" stroke="#000" stroke-width="0.35">*</text>
<text x="135.50" y="711.15" text-anchor="middle" fill="#000" style="font-size:14.3px;" stroke="#000" stroke-width="0.35">*</text>
<text x="163.75" y="743.65" text-anchor="middle" fill="#000" style="font-size:14.3px;" stroke="#000" stroke-width="0.35">*</text>
<text x="190.75" y="747.40" text-anchor="middle" fill="#000" style="font-size:14.3px;" stroke="#000" stroke-width="0.35">*</text>
<text x="201.25" y="745.95" text-anchor="middle" fill="#000" style="font-size:12px;font-weight:bold;" >^</text>
<text x="220.75" y="749.90" text-anchor="middle" fill="#000" style="font-size:14.3px;" stroke="#000" stroke-width="0.35">*</text>
<text x="230.75" y="748.45" text-anchor="middle" fill="#000" style="font-size:12px;font-weight:bold;" >^</text>
<text x="9.70" y="688.80" text-anchor="start" fill="#000" style="font-size:18.5px;font-weight:bold;" >K</text>
<text x="49.70" y="815.30" text-anchor="middle" fill="#111" style="font-size:11.4px;" >-</text>
<text x="76.30" y="815.30" text-anchor="middle" fill="#111" style="font-size:11.4px;" >-</text>
<text x="106.00" y="815.60" text-anchor="middle" fill="#111" style="font-size:11.4px;" >Scr</text>
<text x="134.00" y="815.60" text-anchor="middle" fill="#111" style="font-size:11.4px;" >Scr</text>
<text x="153.60" y="815.90" text-anchor="start" fill="#111" style="font-size:11.4px;" >1<tspan style="font-family:'DejaVu Sans',sans-serif;font-size:11px">α</tspan></text>
<text x="183.20" y="816.20" text-anchor="start" fill="#111" style="font-size:11.4px;" >2<tspan style="font-family:'DejaVu Sans',sans-serif;font-size:11px">α</tspan></text>
<text x="205.40" y="815.40" text-anchor="start" fill="#111" style="font-size:11.4px;" textLength="33" lengthAdjust="spacingAndGlyphs">1<tspan style="font-family:'DejaVu Sans',sans-serif;font-size:11px">α</tspan>+2<tspan style="font-family:'DejaVu Sans',sans-serif;font-size:11px">α</tspan></text>
<line x1="310.70" y1="696.15" x2="310.70" y2="798.60" stroke="#000" stroke-width="1.65"/>
<line x1="309.88" y1="797.60" x2="508.70" y2="797.60" stroke="#000" stroke-width="2.0"/>
<line x1="306.90" y1="696.75" x2="310.70" y2="696.75" stroke="#000" stroke-width="1.5"/>
<text x="302.60" y="694.95" text-anchor="end" fill="#111" style="font-size:7px;" >2.5</text>
<line x1="306.90" y1="717.00" x2="310.70" y2="717.00" stroke="#000" stroke-width="1.5"/>
<text x="302.60" y="715.20" text-anchor="end" fill="#111" style="font-size:7px;" >2.0</text>
<line x1="306.90" y1="737.00" x2="310.70" y2="737.00" stroke="#000" stroke-width="1.5"/>
<text x="302.60" y="735.20" text-anchor="end" fill="#111" style="font-size:7px;" >1.5</text>
<line x1="306.90" y1="757.50" x2="310.70" y2="757.50" stroke="#000" stroke-width="1.5"/>
<text x="302.60" y="755.70" text-anchor="end" fill="#111" style="font-size:7px;" >1.0</text>
<line x1="306.90" y1="777.50" x2="310.70" y2="777.50" stroke="#000" stroke-width="1.5"/>
<text x="302.60" y="775.70" text-anchor="end" fill="#111" style="font-size:7px;" >0.5</text>
<line x1="306.90" y1="797.50" x2="310.70" y2="797.50" stroke="#000" stroke-width="1.5"/>
<text x="301.70" y="798.70" text-anchor="end" fill="#111" style="font-size:7px;" >0</text>
<text transform="translate(284.10,747.20) rotate(-90)" text-anchor="middle" stroke="#000" stroke-width="0.25" style="font-size:8.85px;font-weight:bold">Fold change</text>
<rect x="344.25" y="758.00" width="19.25" height="39.60" fill="#fff" stroke="#000" stroke-width="2.0"/>
<rect x="372.50" y="714.70" width="21.50" height="82.90" fill="#000"/>
<line x1="383.25" y1="715.20" x2="383.25" y2="708.30" stroke="#000" stroke-width="2.1"/>
<line x1="377.75" y1="708.30" x2="388.75" y2="708.30" stroke="#000" stroke-width="2.2"/>
<rect x="437.00" y="748.50" width="20.00" height="49.10" fill="#fff" stroke="#000" stroke-width="2.0"/>
<line x1="447.00" y1="748.00" x2="447.00" y2="738.30" stroke="#000" stroke-width="2.1"/>
<line x1="442.00" y1="738.30" x2="452.00" y2="738.30" stroke="#000" stroke-width="2.2"/>
<rect x="464.80" y="721.00" width="20.70" height="76.60" fill="#000"/>
<line x1="475.15" y1="721.50" x2="475.15" y2="708.80" stroke="#000" stroke-width="2.1"/>
<line x1="469.65" y1="708.80" x2="480.65" y2="708.80" stroke="#000" stroke-width="2.2"/>
<text x="384.00" y="701.25" text-anchor="middle" fill="#000" style="font-size:14.3px;" stroke="#000" stroke-width="0.35">*</text>
<text x="275.60" y="694.80" text-anchor="start" fill="#000" style="font-size:19.5px;font-weight:bold;" >L</text>
<text x="474.20" y="689.00" text-anchor="start" fill="#000" style="font-size:11.6px;font-weight:bold;" >ICAM1</text>
<line x1="473.20" y1="691.40" x2="510.20" y2="691.40" stroke="#000" stroke-width="1.2"/>
<line x1="446.80" y1="797.50" x2="446.80" y2="800.50" stroke="#000" stroke-width="1"/>
<line x1="493.00" y1="798.90" x2="497.50" y2="798.90" stroke="#000" stroke-width="1.2"/>
<text x="370.00" y="816.00" text-anchor="middle" fill="#111" style="font-size:11.3px;" >WT</text>
<text x="462.80" y="818.50" text-anchor="middle" fill="#111" style="font-size:11.4px;" >HIF-1<tspan style="font-family:'DejaVu Sans',sans-serif;font-size:11px">α</tspan> -/-</text>
</svg></body></html>
